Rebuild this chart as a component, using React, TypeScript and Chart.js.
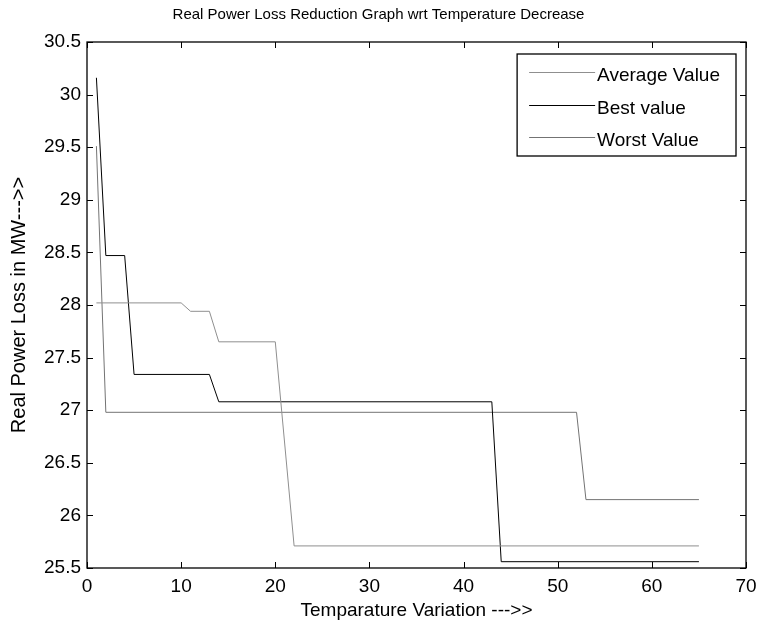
import React, { useEffect, useRef } from "react";
import { Chart, registerables } from "chart.js";

Chart.register(...registerables);

const seriesLabels = ["Average Value", "Best value", "Worst Value"];
const seriesColors = ["#8f8f8f", "#000000", "#737373"];

const avgX = [1, 10, 11, 13, 14, 20, 22, 65];
const avgY = [28.02, 28.02, 27.94, 27.94, 27.65, 27.65, 25.71, 25.71];

const bestX = [1, 2, 4, 5, 13, 14, 43, 44, 65];
const bestY = [30.16, 28.47, 28.47, 27.34, 27.34, 27.08, 27.08, 25.56, 25.56];

const worstX = [1, 2, 52, 53, 65];
const worstY = [29.51, 26.98, 26.98, 26.15, 26.15];

const xTicks = [0, 10, 20, 30, 40, 50, 60, 70];
const yTicks = [25.5, 26, 26.5, 27, 27.5, 28, 28.5, 29, 29.5, 30, 30.5];

const FONT = "'Liberation Sans', Arial, Helvetica, sans-serif";

const toPoints = (xs: number[], ys: number[]) => xs.map((x, i) => ({ x, y: ys[i] }));

const boxPlugin = {
  id: "matlabBox",
  afterDatasetsDraw(chart: any) {
    const { ctx, chartArea } = chart;
    const { left, right, top, bottom } = chartArea;
    const xs = chart.scales.x;
    const ys = chart.scales.y;
    const tl = 6;
    ctx.save();
    ctx.strokeStyle = "#000";
    ctx.lineWidth = 1.3;
    ctx.strokeRect(left, top, right - left, bottom - top);
    ctx.lineWidth = 1;
    ctx.beginPath();
    xTicks.forEach((v) => {
      const px = Math.round(xs.getPixelForValue(v)) + 0.5;
      ctx.moveTo(px, bottom);
      ctx.lineTo(px, bottom - tl);
      ctx.moveTo(px, top);
      ctx.lineTo(px, top + tl);
    });
    yTicks.forEach((v) => {
      const py = Math.round(ys.getPixelForValue(v)) + 0.5;
      ctx.moveTo(left, py);
      ctx.lineTo(left + tl, py);
      ctx.moveTo(right, py);
      ctx.lineTo(right - tl, py);
    });
    ctx.stroke();

    // legend box (MATLAB style, inside upper right)
    ctx.font = `19px ${FONT}`;
    const textWidths = chart.data.datasets.map((d: any) => ctx.measureText(d.label).width);
    const maxW = Math.max(...textWidths);
    const lineLen = 66;
    const padL = 12;
    const gap = 2;
    const padR = 16;
    const rowH = 32.5;
    const boxW = padL + lineLen + gap + maxW + padR;
    const boxH = 102;
    const bx = right - 10 - boxW;
    const by = top + 12;
    ctx.fillStyle = "#fff";
    ctx.fillRect(bx, by, boxW, boxH);
    ctx.lineWidth = 1.3;
    ctx.strokeStyle = "#000";
    ctx.strokeRect(bx, by, boxW, boxH);
    chart.data.datasets.forEach((d: any, i: number) => {
      const cy = by + 18 + i * rowH;
      ctx.strokeStyle = d.borderColor;
      ctx.lineWidth = 1;
      ctx.beginPath();
      ctx.moveTo(bx + padL, Math.round(cy) + 0.5);
      ctx.lineTo(bx + padL + lineLen, Math.round(cy) + 0.5);
      ctx.stroke();
      ctx.fillStyle = "#000";
      ctx.textBaseline = "middle";
      ctx.textAlign = "left";
      ctx.fillText(d.label, bx + padL + lineLen + gap, cy + 4);
    });
    ctx.restore();
  },
};

const fmt = (v: any) => String(Number(v));

export default function App() {
  const canvasRef = useRef<HTMLCanvasElement | null>(null);

  useEffect(() => {
    document.body.style.margin = "0";
    const canvas = canvasRef.current;
    if (!canvas) return;
    const chart = new Chart(canvas, {
      type: "line",
      data: {
        datasets: [
          { label: seriesLabels[0], data: toPoints(avgX, avgY), borderColor: seriesColors[0] },
          { label: seriesLabels[1], data: toPoints(bestX, bestY), borderColor: seriesColors[1] },
          { label: seriesLabels[2], data: toPoints(worstX, worstY), borderColor: seriesColors[2] },
        ].map((d) => ({
          ...d,
          borderWidth: 1,
          pointRadius: 0,
          pointHoverRadius: 0,
          tension: 0,
          fill: false,
        })),
      },
      options: {
        animation: false,
        responsive: false,
        devicePixelRatio: 1,
        layout: { padding: { left: 0, right: 0, top: 0, bottom: 0 } },
        plugins: {
          legend: { display: false },
          tooltip: { enabled: false },
          title: {
            display: true,
            text: "Real Power Loss Reduction Graph wrt Temperature Decrease",
            color: "#000",
            font: { family: FONT, size: 15, weight: "normal" },
            padding: { top: 6, bottom: 18 },
          },
        },
        scales: {
          x: {
            type: "linear",
            min: 0,
            max: 70,
            afterBuildTicks: (scale: any) => {
              scale.ticks = xTicks.map((v) => ({ value: v }));
            },
            afterFit: (scale: any) => {
              scale.height = 64;
              scale.paddingLeft = 0;
              scale.paddingRight = 11;
            },
            grid: { display: false, drawTicks: false },
            border: { display: false },
            ticks: {
              color: "#000",
              padding: 7,
              font: { family: FONT, size: 19 },
              maxRotation: 0,
              callback: fmt,
            },
            title: {
              display: true,
              text: "Temparature Variation --->>",
              color: "#000",
              font: { family: FONT, size: 19 },
              padding: { top: 0, bottom: 10 },
            },
          },
          y: {
            type: "linear",
            min: 25.5,
            max: 30.5,
            afterBuildTicks: (scale: any) => {
              scale.ticks = yTicks.map((v) => ({ value: v }));
            },
            afterFit: (scale: any) => {
              scale.width = 87;
            },
            grid: { display: false, drawTicks: false },
            border: { display: false },
            ticks: {
              color: "#000",
              padding: 6,
              font: { family: FONT, size: 19 },
              callback: fmt,
            },
            title: {
              display: true,
              text: "Real Power Loss in MW--->>",
              color: "#000",
              font: { family: FONT, size: 20 },
              padding: { top: 7, bottom: 0 },
            },
          },
        },
      },
      plugins: [boxPlugin],
    });
    return () => chart.destroy();
  }, []);

  return (
    <div style={{ position: "absolute", left: 0, top: 0, width: 757, height: 632, background: "#fff" }}>
      <canvas ref={canvasRef} width={757} height={632} style={{ width: 757, height: 632 }} />
    </div>
  );
}
